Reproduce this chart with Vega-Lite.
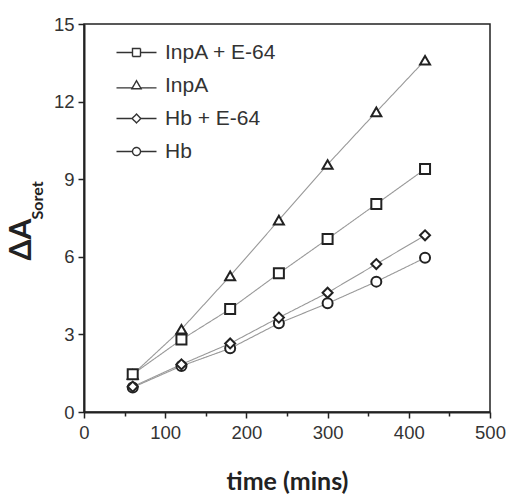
{
  "$schema": "https://vega.github.io/schema/vega-lite/v6.json",
  "width": 406,
  "height": 388,
  "autosize": {"type": "none"},
  "padding": {"left": 84, "top": 24, "right": 19, "bottom": 85},
  "background": "white",
  "config": {
    "view": {"stroke": "#222", "strokeWidth": 1.5},
    "axis": {
      "grid": false,
      "domainColor": "#222",
      "domainWidth": 2,
      "tickColor": "#222",
      "tickWidth": 1.5,
      "labelFont": "Liberation Sans",
      "labelFontSize": 18.5,
      "labelColor": "#333",
      "titleFont": "Lato",
      "titleFontWeight": "bold",
      "titleColor": "#222"
    }
  },
  "data": {
    "values": [
      {"series": "InpA", "time": 60, "value": 1.45},
      {"series": "InpA", "time": 120, "value": 3.2},
      {"series": "InpA", "time": 180, "value": 5.26},
      {"series": "InpA", "time": 240, "value": 7.42},
      {"series": "InpA", "time": 300, "value": 9.57},
      {"series": "InpA", "time": 360, "value": 11.6},
      {"series": "InpA", "time": 420, "value": 13.6},
      {"series": "InpA + E-64", "time": 60, "value": 1.46},
      {"series": "InpA + E-64", "time": 120, "value": 2.8},
      {"series": "InpA + E-64", "time": 180, "value": 3.98},
      {"series": "InpA + E-64", "time": 240, "value": 5.36},
      {"series": "InpA + E-64", "time": 300, "value": 6.69},
      {"series": "InpA + E-64", "time": 360, "value": 8.04},
      {"series": "InpA + E-64", "time": 420, "value": 9.39},
      {"series": "Hb", "time": 60, "value": 0.95},
      {"series": "Hb", "time": 120, "value": 1.78},
      {"series": "Hb", "time": 180, "value": 2.46},
      {"series": "Hb", "time": 240, "value": 3.43},
      {"series": "Hb", "time": 300, "value": 4.2},
      {"series": "Hb", "time": 360, "value": 5.04},
      {"series": "Hb", "time": 420, "value": 5.96},
      {"series": "Hb + E-64", "time": 60, "value": 0.98},
      {"series": "Hb + E-64", "time": 120, "value": 1.84},
      {"series": "Hb + E-64", "time": 180, "value": 2.65},
      {"series": "Hb + E-64", "time": 240, "value": 3.65},
      {"series": "Hb + E-64", "time": 300, "value": 4.61},
      {"series": "Hb + E-64", "time": 360, "value": 5.72},
      {"series": "Hb + E-64", "time": 420, "value": 6.83}
    ]
  },
  "resolve": {"axis": {"y": "independent"}},
  "layer": [
    {
      "mark": {"type": "line", "color": "#999", "strokeWidth": 1.1},
      "encoding": {
        "x": {
          "field": "time", "type": "quantitative",
          "scale": {"domain": [0, 500], "nice": false},
          "axis": {
            "values": [0, 50, 100, 150, 200, 250, 300, 350, 400, 450, 500],
            "labelExpr": "datum.value % 100 === 0 ? datum.label : ''",
            "tickSize": {"condition": {"test": "datum.value % 100 !== 0", "value": 4}, "value": 6},
            "labelPadding": 5,
            "labelFlush": false,
            "title": "time (mins)",
            "titleFontSize": 25,
            "titleY": 77,
            "titleBaseline": "alphabetic"
          }
        },
        "y": {
          "field": "value", "type": "quantitative",
          "scale": {"domain": [0, 15], "nice": false},
          "axis": {
            "values": [0, 3, 6, 9, 12, 15],
            "tickSize": 6,
            "labelPadding": 4,
            "labelFlush": false,
            "title": "ΔA",
            "titleFontSize": 30,
            "titleAngle": -90,
            "titleAlign": "left",
            "titleBaseline": "alphabetic",
            "titleX": -54,
            "titleY": 236
          }
        },
        "strokeDash": {
          "field": "series", "type": "nominal",
          "scale": {
            "domain": ["InpA + E-64", "InpA", "Hb + E-64", "Hb"],
            "range": [[1, 0], [1, 0], [1, 0], [1, 0]]
          },
          "legend": {
            "orient": "none",
            "legendX": 42,
            "legendY": 18,
            "title": null,
            "padding": 0,
            "symbolSize": 64,
            "symbolStrokeColor": "#333",
            "symbolFillColor": "transparent",
            "symbolStrokeWidth": 1.4,
            "symbolType": {"expr": "datum.value === 'InpA + E-64' ? 'M-5,0H-1M1,0H5M-1,-1H1V1H-1Z' : datum.value === 'InpA' ? 'M-5,0.6H-1.1M1.1,0.6H5M0,-1.2L1.15,0.8H-1.15Z' : datum.value === 'Hb + E-64' ? 'M-5,0H-1.1M1.1,0H5M0,-1.1L1.1,0L0,1.1L-1.1,0Z' : 'M-5,0H-1M1,0H5M1,0A1,1,0,1,1,-1,0A1,1,0,1,1,1,0Z'"},
            "labelFont": "Liberation Sans",
            "labelFontSize": 21,
            "labelColor": "#333",
            "labelOffset": 18,
            "rowPadding": 11
          }
        }
      }
    },
    {
      "mark": {"type": "point", "filled": false, "fill": "white", "fillOpacity": 1, "stroke": "#222", "strokeWidth": 2, "opacity": 1, "size": 100},
      "encoding": {
        "x": {"field": "time", "type": "quantitative"},
        "y": {
          "field": "value", "type": "quantitative",
          "axis": {
            "orient": "left",
            "labels": false,
            "ticks": false,
            "domain": false,
            "title": "Soret",
            "titleFontSize": 16,
            "titleAngle": -90,
            "titleAlign": "left",
            "titleBaseline": "alphabetic",
            "titleX": -42,
            "titleY": 195
          }
        },
        "shape": {
          "field": "series", "type": "nominal",
          "scale": {
            "domain": ["InpA", "InpA + E-64", "Hb", "Hb + E-64"],
            "range": ["triangle-up", "square", "circle", "diamond"]
          },
          "legend": null
        }
      }
    }
  ]
}
